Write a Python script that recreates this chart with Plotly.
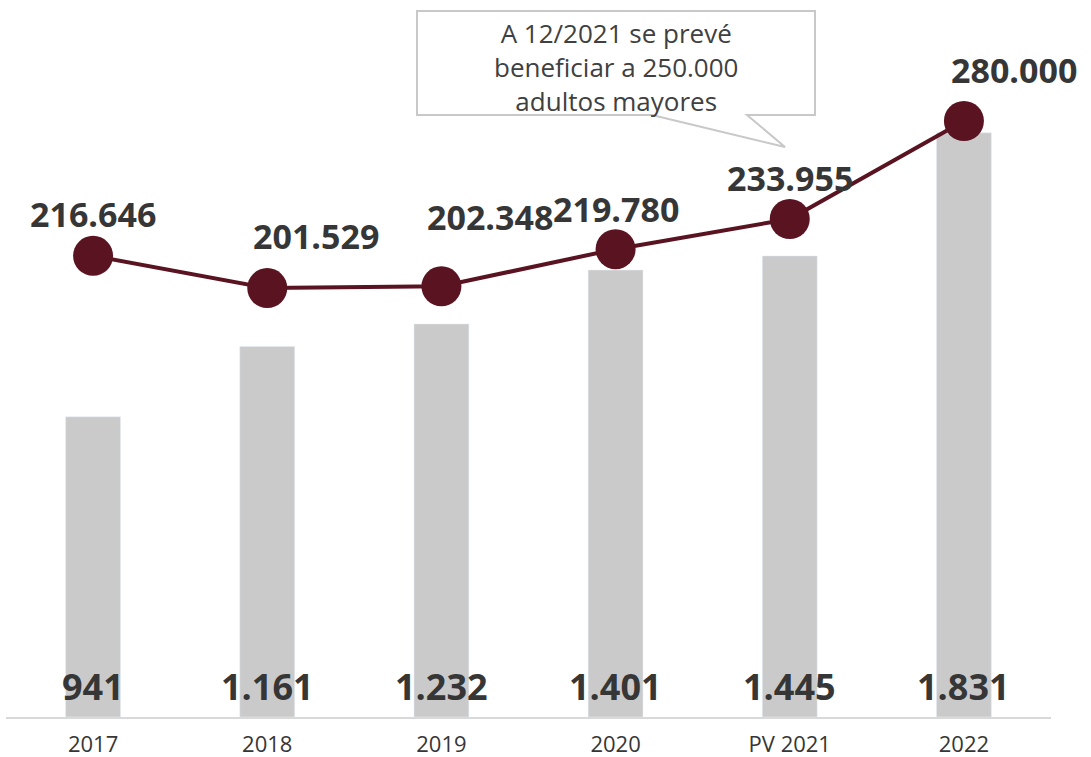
import plotly.graph_objects as go

categories = ["2017", "2018", "2019", "2020", "PV 2021", "2022"]
bar_values = [941, 1161, 1232, 1401, 1445, 1831]
bar_labels = ["941", "1.161", "1.232", "1.401", "1.445", "1.831"]
line_values = [216646, 201529, 202348, 219780, 233955, 280000]
line_labels = ["216.646", "201.529", "202.348", "219.780", "233.955", "280.000"]
label_shifts = [(0, 42), (49, 52), (49, 69), (0, 40), (0, 41), (50, 51)]
callout_text = "A 12/2021 se prevé<br>beneficiar a 250.000<br>adultos mayores"

W, H = 1091, 757
L, R, T, B = 6, 40, 10, 40
pw, ph = W - L - R, H - T - B

def px(x):
    return (x - L) / pw

def py(y):
    return (H - B - y) / ph

FONT = "Open Sans"
DARK = "#363636"
MAROON = "#5a1320"

fig = go.Figure()
fig.add_trace(go.Bar(x=categories, y=bar_values, marker_color="#cacaca",
                     width=0.315, yaxis="y", hoverinfo="skip"))
fig.add_trace(go.Scatter(x=categories, y=line_values, mode="lines+markers",
                         line=dict(color=MAROON, width=4),
                         marker=dict(size=40, color=MAROON), yaxis="y2"))

annotations = []
for i, lab in enumerate(bar_labels):
    annotations.append(dict(x=i, y=0, xref="x", yref="y", text=lab, showarrow=False,
                            yanchor="middle", yshift=31,
                            font=dict(family=FONT, size=36, color=DARK, weight="bold")))
for i, (v, lab, (dx, dy)) in enumerate(zip(line_values, line_labels, label_shifts)):
    annotations.append(dict(x=i, y=v, xref="x", yref="y2", text=lab, showarrow=False,
                            yanchor="middle", xshift=dx, yshift=dy,
                            font=dict(family=FONT, size=34, color=DARK, weight="bold")))
annotations.append(dict(x=px(616), y=py(67), xref="paper", yref="paper", text=callout_text,
                        showarrow=False, align="center", xanchor="center", yanchor="middle",
                        font=dict(family=FONT, size=26, color="#404040")))

bx0, bx1, by0, by1 = 417, 815, 11, 115
path = (f"M {px(bx0)},{py(by0)} L {px(bx1)},{py(by0)} L {px(bx1)},{py(by1)} "
        f"L {px(747)},{py(by1)} L {px(785)},{py(147)} L {px(652)},{py(by1)} "
        f"L {px(bx0)},{py(by1)} Z")
shapes = [dict(type="path", xref="paper", yref="paper", path=path,
               line=dict(color="#c8c8c8", width=2), fillcolor="white", layer="below")]

fig.update_layout(
    width=W, height=H, margin=dict(l=L, r=R, t=T, b=B),
    plot_bgcolor="rgba(0,0,0,0)", paper_bgcolor="white", showlegend=False,
    xaxis=dict(type="category", range=[-0.5, 5.5], showline=True, linecolor="#d9d9d9",
               linewidth=2, ticks="", ticklabelstandoff=7, automargin=False,
               tickfont=dict(family=FONT, size=22, color=DARK), showgrid=False),
    yaxis=dict(range=[0, 2216], visible=False, showgrid=False),
    yaxis2=dict(range=[0, 332140], overlaying="y", visible=False, showgrid=False),
    annotations=annotations, shapes=shapes,
)
fig.write_html("out.html", config={"displayModeBar": False},
               post_script="document.body.style.margin='0';")
